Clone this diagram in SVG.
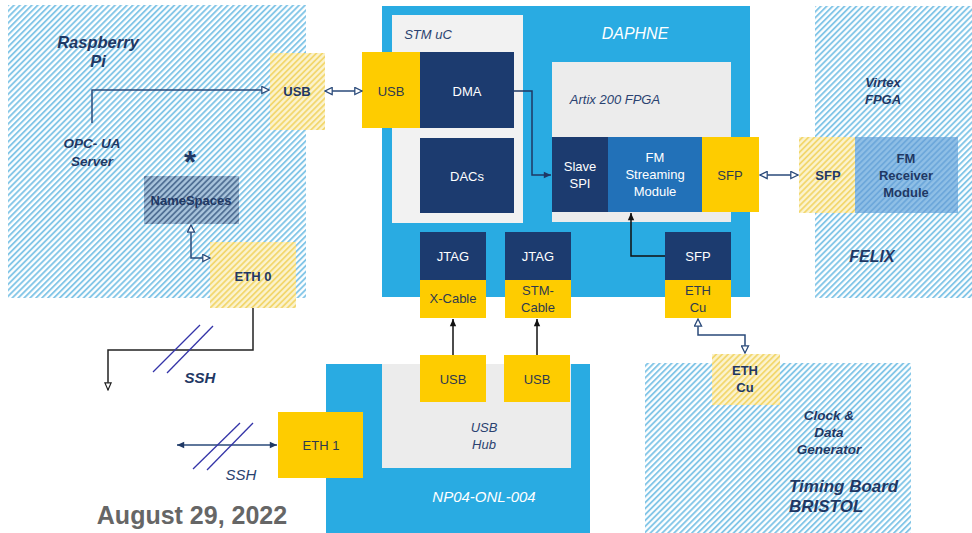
<svg xmlns="http://www.w3.org/2000/svg" width="972" height="533" viewBox="0 0 972 533">
<defs>
<pattern id="hb" width="4.2" height="4.2" patternUnits="userSpaceOnUse" patternTransform="rotate(45)">
<rect width="4.2" height="4.2" fill="#ffffff"/>
<line x1="1" y1="0" x2="1" y2="4.2" stroke="#7cc3e6" stroke-width="1.8"/>
</pattern>
<pattern id="hy" width="4.2" height="4.2" patternUnits="userSpaceOnUse" patternTransform="rotate(45)">
<rect width="4.2" height="4.2" fill="#fbf3cf"/>
<line x1="1" y1="0" x2="1" y2="4.2" stroke="#f2d566" stroke-width="1.7"/>
</pattern>
<pattern id="hn" width="4.2" height="4.2" patternUnits="userSpaceOnUse" patternTransform="rotate(45)">
<rect width="4.2" height="4.2" fill="#a9c4dc"/>
<line x1="1" y1="0" x2="1" y2="4.2" stroke="#4a6a90" stroke-width="1.7"/>
</pattern>
<pattern id="hf" width="4.2" height="4.2" patternUnits="userSpaceOnUse" patternTransform="rotate(45)">
<rect width="4.2" height="4.2" fill="#8fbfe6"/>
<line x1="1" y1="0" x2="1" y2="4.2" stroke="#6aa6da" stroke-width="1.7"/>
</pattern>
<marker id="open" viewBox="0 0 10 10" refX="9" refY="5" markerWidth="9" markerHeight="9" orient="auto-start-reverse" markerUnits="userSpaceOnUse">
<path d="M1,1 L9,5 L1,9 Z" fill="#ffffff" stroke="#2a4a7a" stroke-width="1.4"/>
</marker>
<marker id="solid" viewBox="0 0 10 10" refX="9" refY="5" markerWidth="9" markerHeight="9" orient="auto-start-reverse" markerUnits="userSpaceOnUse">
<path d="M1,1.5 L9,5 L1,8.5 Z" fill="#1f3864"/>
</marker>
<marker id="blk" viewBox="0 0 10 10" refX="9" refY="5" markerWidth="9" markerHeight="9" orient="auto-start-reverse" markerUnits="userSpaceOnUse">
<path d="M1,1.5 L9,5 L1,8.5 Z" fill="#111111"/>
</marker>
<marker id="blkopen" viewBox="0 0 10 10" refX="9" refY="5" markerWidth="9" markerHeight="9" orient="auto-start-reverse" markerUnits="userSpaceOnUse">
<path d="M1,1.5 L9,5 L1,8.5 Z" fill="#ffffff" stroke="#222222" stroke-width="1.3"/>
</marker>
</defs>
<style>
text{font-family:"Liberation Sans",Arial,sans-serif;text-anchor:middle}
.lab{font-size:13px;fill:#ffffff}
.dk{font-size:13px;fill:#2e3a4e}
.ti{font-style:italic;font-size:13px;fill:#2a4270}
.tib{font-style:italic;font-weight:bold;fill:#1f3864}
.b{font-weight:bold;fill:#1f3864;font-size:13px}
.navy{fill:#1c3b6f}
.yel{fill:#fecc00}
.gry{fill:#f2f2f2}
.conn{fill:none;stroke-width:1.5}
</style>
<rect width="972" height="533" fill="#ffffff"/>

<g id="raspberry-pi">
<rect x="8" y="5" width="298" height="293" fill="url(#hb)"/>
<text class="tib" x="98" y="48" font-size="16.5">Raspberry</text>
<text class="tib" x="98" y="67" font-size="16.5">Pi</text>
<text class="tib" x="92" y="148" font-size="13.5">OPC- UA</text>
<text class="tib" x="92" y="166" font-size="13.5">Server</text>
<text x="190" y="173" font-size="31" font-weight="bold" fill="#1f3864">*</text>
</g>
<g id="pi-usb">
<rect x="270" y="53" width="55" height="77" fill="url(#hy)"/>
<text class="b" x="297" y="96" font-size="13">USB</text>
</g>
<g id="namespaces">
<rect x="144" y="176" width="95" height="48" fill="url(#hn)"/>
<text class="b" x="191" y="205" font-size="14">NameSpaces</text>
</g>
<g id="eth0">
<rect x="210" y="242" width="86" height="66" fill="url(#hy)"/>
<text class="b" x="253" y="281">ETH 0</text>
</g>

<g id="daphne">
<rect x="382" y="6" width="368" height="291" fill="#29abe2"/>
<text x="635" y="39" font-size="16" font-style="italic" fill="#ffffff">DAPHNE</text>
</g>
<g id="stm-uc">
<rect x="392" y="15" width="131" height="208" class="gry"/>
<text class="ti" x="428" y="39">STM uC</text>
</g>
<g id="daphne-usb">
<rect x="362" y="52" width="58" height="76" class="yel"/>
<text class="dk" x="391" y="96">USB</text>
</g>
<g id="dma">
<rect x="420" y="52" width="94" height="76" class="navy"/>
<text class="lab" x="467" y="96">DMA</text>
</g>
<g id="dacs">
<rect x="420" y="138" width="94" height="75" class="navy"/>
<text class="lab" x="467" y="181">DACs</text>
</g>
<g id="artix">
<rect x="552" y="62" width="179" height="160" fill="#ececec"/>
<text class="ti" x="615" y="104">Artix 200 FPGA</text>
</g>
<g id="slave-spi">
<rect x="552" y="137" width="56" height="75" class="navy"/>
<text class="lab" x="580" y="171">Slave</text>
<text class="lab" x="580" y="188">SPI</text>
</g>
<g id="fm-streaming">
<rect x="608" y="137" width="94" height="75" fill="#2271b8"/>
<text class="lab" x="655" y="162">FM</text>
<text class="lab" x="655" y="179">Streaming</text>
<text class="lab" x="655" y="196">Module</text>
</g>
<g id="daphne-sfp">
<rect x="702" y="137" width="57" height="75" class="yel"/>
<text class="dk" x="730" y="180">SFP</text>
</g>
<g id="jtag-x">
<rect x="420" y="232" width="66" height="48" class="navy"/>
<text class="lab" x="453" y="261">JTAG</text>
<rect x="420" y="280" width="66" height="38" class="yel"/>
<text class="dk" x="453" y="303">X-Cable</text>
</g>
<g id="jtag-stm">
<rect x="505" y="232" width="66" height="48" class="navy"/>
<text class="lab" x="538" y="261">JTAG</text>
<rect x="505" y="280" width="66" height="38" class="yel"/>
<text class="dk" x="538" y="295">STM-</text>
<text class="dk" x="538" y="312">Cable</text>
</g>
<g id="sfp-eth">
<rect x="665" y="232" width="66" height="48" class="navy"/>
<text class="lab" x="698" y="261">SFP</text>
<rect x="665" y="280" width="66" height="38" class="yel"/>
<text class="dk" x="698" y="295">ETH</text>
<text class="dk" x="698" y="312">Cu</text>
</g>

<g id="felix">
<rect x="815" y="6" width="157" height="292" fill="url(#hb)"/>
<text class="tib" x="883" y="87" font-size="13">Virtex</text>
<text class="tib" x="883" y="104" font-size="13">FPGA</text>
<text class="tib" x="872" y="262" font-size="16">FELIX</text>
</g>
<g id="felix-sfp">
<rect x="799" y="137" width="56" height="76" fill="url(#hy)"/>
<text class="b" x="828" y="180">SFP</text>
</g>
<g id="fm-receiver">
<rect x="855" y="137" width="103" height="76" fill="url(#hf)"/>
<text class="b" x="906" y="163">FM</text>
<text class="b" x="906" y="180">Receiver</text>
<text class="b" x="906" y="197">Module</text>
</g>

<g id="np04">
<rect x="326" y="364" width="264" height="169" fill="#29abe2"/>
<text x="484" y="502" font-size="15" font-style="italic" fill="#ffffff">NP04-ONL-004</text>
</g>
<g id="usb-hub">
<rect x="382" y="364" width="189" height="104" fill="#ececec"/>
<text class="ti" x="484" y="432">USB</text>
<text class="ti" x="484" y="449">Hub</text>
</g>
<g id="hub-usb1">
<rect x="420" y="355" width="66" height="47" class="yel"/>
<text class="dk" x="453" y="384">USB</text>
</g>
<g id="hub-usb2">
<rect x="504" y="355" width="66" height="47" class="yel"/>
<text class="dk" x="537" y="384">USB</text>
</g>
<g id="eth1">
<rect x="278" y="412" width="85" height="66" class="yel"/>
<text class="dk" x="321" y="450">ETH 1</text>
</g>

<g id="timing-board">
<rect x="645" y="363" width="266" height="170" fill="url(#hb)"/>
<text class="tib" x="829" y="420" font-size="13.5">Clock &amp;</text>
<text class="tib" x="829" y="437" font-size="13.5">Data</text>
<text class="tib" x="829" y="454" font-size="13.5">Generator</text>
<text class="tib" x="789" y="492" font-size="17" style="text-anchor:start">Timing Board</text>
<text class="tib" x="789" y="512" font-size="17" style="text-anchor:start">BRISTOL</text>
</g>
<g id="timing-eth">
<rect x="712" y="354" width="68" height="51" fill="url(#hy)"/>
<text class="b" x="745" y="375">ETH</text>
<text class="b" x="745" y="392">Cu</text>
</g>

<g id="connectors">
<path class="conn" d="M92,123 V90 H269" stroke="#2a4a7a" marker-end="url(#open)"/>
<path class="conn" d="M191,225 V258 H210" stroke="#2a4a7a" marker-start="url(#open)" marker-end="url(#open)"/>
<path class="conn" d="M325,91 H362" stroke="#2a4a7a" marker-start="url(#open)" marker-end="url(#open)"/>
<path class="conn" d="M514,91 H532 V175 H551" stroke="#1f3864" marker-end="url(#solid)"/>
<path class="conn" d="M665,256 H631 V213" stroke="#111111" marker-end="url(#blk)"/>
<path class="conn" d="M760,175 H798" stroke="#2a4a7a" marker-start="url(#open)" marker-end="url(#open)"/>
<path class="conn" d="M453,355 V319" stroke="#111111" marker-end="url(#blk)"/>
<path class="conn" d="M537,355 V319" stroke="#111111" marker-end="url(#blk)"/>
<path class="conn" d="M698,319 V335 H745 V353" stroke="#2a4a7a" marker-start="url(#open)" marker-end="url(#open)"/>
<path class="conn" d="M253,308 V350 H108 V390" stroke="#222222" marker-end="url(#blkopen)"/>
<path class="conn" d="M177,445 H277" stroke="#2a4a7a" marker-start="url(#solid)" marker-end="url(#solid)"/>
<g stroke="#3434a8" stroke-width="1.3">
<line x1="153" y1="372" x2="200" y2="325"/>
<line x1="167" y1="373" x2="213" y2="326"/>
<line x1="193" y1="469" x2="240" y2="423"/>
<line x1="207" y1="470" x2="253" y2="423"/>
</g>
<text class="tib" x="200" y="383" font-size="15">SSH</text>
<text x="241" y="480" font-size="15" font-style="italic" fill="#2a4270">SSH</text>
</g>

<text x="192" y="524" font-size="25" font-weight="bold" fill="#666666">August 29, 2022</text>
</svg>
